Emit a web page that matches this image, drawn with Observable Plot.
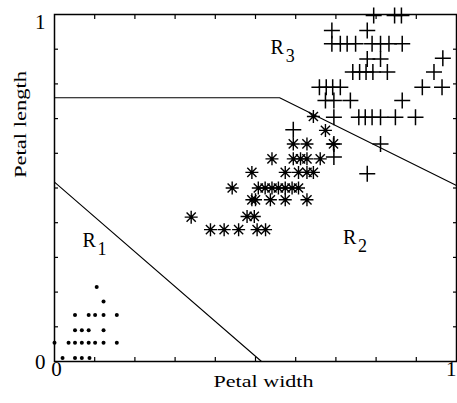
<!DOCTYPE html>
<html><head><meta charset="utf-8">
<script src="https://cdn.jsdelivr.net/npm/d3@7"></script>
<script src="https://cdn.jsdelivr.net/npm/@observablehq/plot@0.6"></script>
<style>html,body{margin:0;padding:0;background:#fff}</style>
</head><body><div id="chart"></div>
<script>
// Class 1 (R1) – dots
const c1x = [0.02,0.051,0.068,0.087, 0.0,0.035,0.051,0.068,0.085,0.101,0.122,0.155, 0.051,0.068,0.085,0.122, 0.051,0.085,0.101,0.122,0.155, 0.122, 0.105];
const c1y = [0.01,0.01,0.01,0.01, 0.054,0.054,0.054,0.054,0.054,0.054,0.054,0.054, 0.09,0.09,0.09,0.09, 0.134,0.134,0.134,0.134,0.134, 0.173, 0.215];
// Class 2 (R2) – asterisks
const c2x = [0.340, 0.388,0.422,0.458,0.504,0.525, 0.479,0.497, 0.442, 0.491, 0.491,0.500,0.537,0.574,0.628, 0.507,0.524,0.541,0.557,0.574,0.591,0.607, 0.574,0.607,0.628,0.644, 0.541,0.594,0.612,0.628,0.661, 0.594,0.628,0.694, 0.674, 0.644];
const c2y = [0.416, 0.380,0.380,0.380,0.380,0.380, 0.418,0.418, 0.500, 0.545, 0.466,0.466,0.466,0.466,0.466, 0.500,0.500,0.500,0.500,0.500,0.500,0.500, 0.545,0.545,0.545,0.545, 0.584,0.584,0.584,0.584,0.584, 0.627,0.627,0.627, 0.666, 0.706];
// Class 3 (R3) – plus signs
const c3x = [0.794,0.846,0.863, 0.690,0.778, 0.690,0.711,0.728,0.749,0.790,0.811,0.832,0.865, 0.778,0.811,0.966, 0.742,0.759,0.775,0.792,0.828,0.944, 0.659,0.676,0.692,0.711,0.915,0.964, 0.674,0.695,0.736,0.865, 0.695,0.757,0.773,0.790,0.811,0.848,0.898, 0.594, 0.695,0.695, 0.811, 0.778];
const c3y = [0.997,0.997,0.997, 0.954,0.954, 0.916,0.916,0.916,0.916,0.916,0.916,0.916,0.916, 0.872,0.872,0.874, 0.834,0.834,0.834,0.834,0.834,0.834, 0.790,0.790,0.790,0.790,0.790,0.790, 0.752,0.752,0.752,0.752, 0.704,0.704,0.704,0.704,0.704,0.704,0.704, 0.668, 0.627,0.589, 0.627, 0.541];
// Decision boundaries
const b1x = [0, 0.515];
const b1y = [0.517, 0];
const b2x = [0, 0.56, 1];
const b2y = [0.76, 0.76, 0.507];
// Region labels
const regionNames = ["R", "R", "R"];
const regionSubs = ["1", "2", "3"];
const regionX = [0.086, 0.734, 0.554];
const regionY = [0.349, 0.357, 0.906];
// Ticks
const tickValues = [0.1,0.2,0.3,0.4,0.5,0.6,0.7,0.8,0.9];
const xLabel = "Petal width";
const yLabel = "Petal length";

const zip = (xs, ys) => xs.map((x, i) => ({x, y: ys[i]}));
const star = {draw(ctx, size) {
  const r = Math.sqrt(size / Math.PI), d = r * Math.SQRT1_2;
  ctx.moveTo(-r, 0); ctx.lineTo(r, 0);
  ctx.moveTo(0, -r); ctx.lineTo(0, r);
  ctx.moveTo(-d, -d); ctx.lineTo(d, d);
  ctx.moveTo(-d, d); ctx.lineTo(d, -d);
}};
const cross = {draw(ctx, size) {
  const r = Math.sqrt(size / Math.PI);
  ctx.moveTo(-r, 0); ctx.lineTo(r, 0);
  ctx.moveTo(0, -r); ctx.lineTo(0, r);
}};
const regions = regionNames.map((n, i) => ({n, s: regionSubs[i], x: regionX[i], y: regionY[i]}));
const tickFmt = () => "";
const font = "Liberation Serif, Times New Roman, serif";

const chart = Plot.plot({
  width: 457, height: 403,
  marginLeft: 54, marginRight: 1, marginTop: 14, marginBottom: 42,
  x: {domain: [0, 1]},
  y: {domain: [0, 1]},
  style: {fontFamily: font, background: "white", color: "black", overflow: "visible"},
  marks: [
    Plot.line(zip(b1x, b1y), {x: "x", y: "y", stroke: "black", strokeWidth: 1.1}),
    Plot.line(zip(b2x, b2y), {x: "x", y: "y", stroke: "black", strokeWidth: 1.1}),
    Plot.dot(zip(c1x, c1y), {x: "x", y: "y", r: 2, fill: "black", stroke: null}),
    Plot.dot(zip(c2x, c2y), {x: "x", y: "y", r: 6.5, symbol: star, fill: "none", stroke: "black", strokeWidth: 1.4}),
    Plot.dot(zip(c3x, c3y), {x: "x", y: "y", r: 8, symbol: cross, fill: "none", stroke: "black", strokeWidth: 1.5}),
    Plot.axisX(tickValues, {anchor: "bottom", tickSize: -4, tickFormat: tickFmt, label: null, strokeWidth: 1.2}),
    Plot.axisX(tickValues, {anchor: "top", tickSize: -4, tickFormat: tickFmt, label: null, strokeWidth: 1.2}),
    Plot.axisY(tickValues, {anchor: "left", tickSize: -4, tickFormat: tickFmt, label: null, strokeWidth: 1.2}),
    Plot.axisY(tickValues, {anchor: "right", tickSize: -4, tickFormat: tickFmt, label: null, strokeWidth: 1.2}),
    Plot.frame({stroke: "black", strokeWidth: 1.5}),
    // tick labels
    Plot.text([0], {frameAnchor: "left", y: d => d, text: d => String(d), textAnchor: "end", dx: -9, dy: 1, fontSize: 21}),
    Plot.text([1], {frameAnchor: "left", y: d => d, text: d => String(d), textAnchor: "end", dx: -9, lineAnchor: "top", fontSize: 21}),
    Plot.text([0], {frameAnchor: "bottom", x: d => d, text: d => String(d), dx: 2, dy: 14, fontSize: 21}),
    Plot.text([1], {frameAnchor: "bottom", x: d => d, text: d => String(d), textAnchor: "end", dx: 0, dy: 14, fontSize: 21}),
    // axis labels
    Plot.text([xLabel], {frameAnchor: "bottom", text: d => d, dx: 8, dy: 25, fontSize: 17}),
    Plot.text([yLabel], {frameAnchor: "left", text: d => d, rotate: -90, dx: -34, dy: -10, fontSize: 17}),
    // region labels
    Plot.text(regions, {x: "x", y: "y", text: "n", fontSize: 20}),
    Plot.text(regions, {x: "x", y: "y", text: "s", dx: 13, dy: 9, fontSize: 18})
  ]
});
document.getElementById("chart").appendChild(chart);
d3.select(chart).selectAll("text").each(function() {
  if (this.textContent === xLabel) { this.setAttribute("textLength", 100); this.setAttribute("lengthAdjust", "spacingAndGlyphs"); }
  if (this.textContent === yLabel) { this.setAttribute("textLength", 107); this.setAttribute("lengthAdjust", "spacingAndGlyphs"); }
});
</script>
</body></html>
